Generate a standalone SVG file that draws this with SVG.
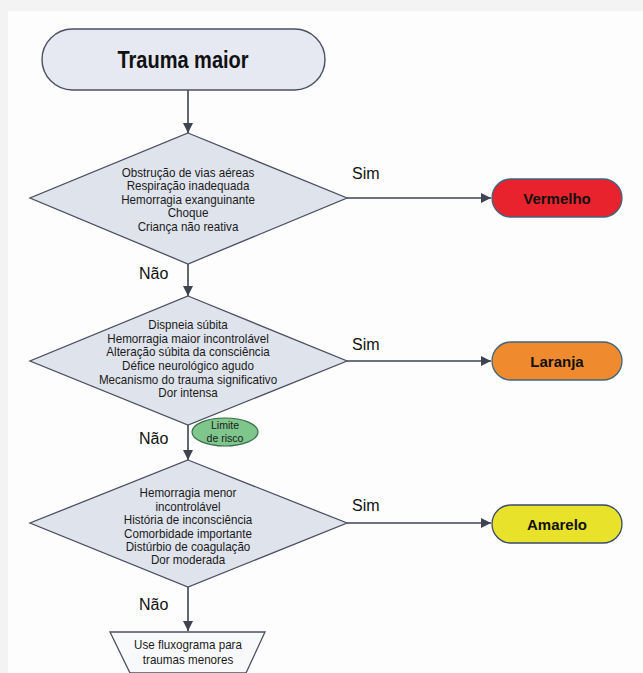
<svg xmlns="http://www.w3.org/2000/svg" width="643" height="673" viewBox="0 0 643 673">
<style>
.conn{stroke:#3d4450;stroke-width:1.6;fill:none}
.dia{fill:#dfe3ec;stroke:#4a5060;stroke-width:1.3}
.dt{font-family:"Liberation Sans",Arial,sans-serif;font-size:12.5px;fill:#1a1a1a;text-anchor:middle}
.lbl{font-family:"Liberation Sans",Arial,sans-serif;font-size:16px;fill:#111}
.out{font-family:"Liberation Sans",Arial,sans-serif;font-size:15px;font-weight:bold;fill:#111;text-anchor:middle}
.term{stroke:#3c6580;stroke-width:1.3}
</style>
<defs>
<marker id="ah" viewBox="0 0 10 10" refX="10" refY="5" markerWidth="10" markerHeight="10" markerUnits="userSpaceOnUse" orient="auto">
<path d="M0,0 L10,5 L0,10 Z" fill="#3d4450"/>
</marker>
</defs>
<rect x="0" y="0" width="643" height="673" fill="#f3f3f3"/>
<rect x="8" y="11" width="635" height="662" fill="#fdfdfd"/>

<g id="connectors">
<line class="conn" x1="188" y1="90" x2="188" y2="133" marker-end="url(#ah)"/>
<line class="conn" x1="188" y1="264" x2="188" y2="296" marker-end="url(#ah)"/>
<line class="conn" x1="188" y1="425" x2="188" y2="460" marker-end="url(#ah)"/>
<line class="conn" x1="188" y1="587" x2="188" y2="631" marker-end="url(#ah)"/>
<line class="conn" x1="347" y1="198" x2="491" y2="198" marker-end="url(#ah)"/>
<line class="conn" x1="347" y1="361" x2="491" y2="361" marker-end="url(#ah)"/>
<line class="conn" x1="347" y1="523" x2="491" y2="523" marker-end="url(#ah)"/>
<text class="lbl" x="352" y="179">Sim</text>
<text class="lbl" x="352" y="350">Sim</text>
<text class="lbl" x="352" y="511">Sim</text>
<text class="lbl" x="139" y="279">Não</text>
<text class="lbl" x="139" y="444">Não</text>
<text class="lbl" x="139" y="610">Não</text>
</g>

<g id="trauma-maior">
<rect x="42" y="29" width="283" height="61" rx="30.5" fill="#e6e9f2" stroke="#4a5060" stroke-width="1.4"/>
<text x="183" y="68" transform="translate(183,0) scale(0.87,1) translate(-183,0)" font-family="Liberation Sans,Arial,sans-serif" font-size="23" font-weight="bold" fill="#111" text-anchor="middle">Trauma maior</text>
</g>

<g id="decision-1">
<polygon class="dia" points="188,133 347,198 188,264 30,198"/>
<g transform="translate(188,0) scale(0.93,1)">
<text class="dt" x="0" y="177">Obstrução de vias aéreas</text>
<text class="dt" x="0" y="190.5">Respiração inadequada</text>
<text class="dt" x="0" y="204">Hemorragia exanguinante</text>
<text class="dt" x="0" y="217.5">Choque</text>
<text class="dt" x="0" y="231">Criança não reativa</text>
</g>
</g>

<g id="vermelho">
<rect class="term" x="492" y="179" width="130" height="38" rx="19" fill="#e8232e"/>
<text class="out" x="557" y="203.5">Vermelho</text>
</g>

<g id="decision-2">
<polygon class="dia" points="188,296 347,361 188,425 30,361"/>
<g transform="translate(188,0) scale(0.93,1)">
<text class="dt" x="0" y="329">Dispneia súbita</text>
<text class="dt" x="0" y="342.7">Hemorragia maior incontrolável</text>
<text class="dt" x="0" y="356.4">Alteração súbita da consciência</text>
<text class="dt" x="0" y="370.1">Défice neurológico agudo</text>
<text class="dt" x="0" y="383.8">Mecanismo do trauma significativo</text>
<text class="dt" x="0" y="397.5">Dor intensa</text>
</g>
</g>

<g id="laranja">
<rect class="term" x="492" y="342" width="130" height="38" rx="19" fill="#f08a2e"/>
<text class="out" x="557" y="366.5">Laranja</text>
</g>

<g id="limite-de-risco">
<ellipse cx="225" cy="432" rx="33" ry="14" fill="#7fc68c" stroke="#3b6e4a" stroke-width="1.2"/>
<g transform="translate(225,0) scale(0.92,1)" font-family="Liberation Sans,Arial,sans-serif" font-size="11.5" fill="#1a1a1a" text-anchor="middle">
<text x="0" y="429">Limite</text>
<text x="0" y="442">de risco</text>
</g>
</g>

<g id="decision-3">
<polygon class="dia" points="188,460 347,523 188,587 30,523"/>
<g transform="translate(188,0) scale(0.93,1)">
<text class="dt" x="0" y="497.5">Hemorragia menor</text>
<text class="dt" x="0" y="510.9">incontrolável</text>
<text class="dt" x="0" y="524.3">História de inconsciência</text>
<text class="dt" x="0" y="537.7">Comorbidade importante</text>
<text class="dt" x="0" y="551.1">Distúrbio de coagulação</text>
<text class="dt" x="0" y="564.5">Dor moderada</text>
</g>
</g>

<g id="amarelo">
<rect x="492" y="505" width="130" height="38" rx="19" fill="#e8e22a" stroke="#3a4a6a" stroke-width="1.3"/>
<text class="out" x="557" y="529.5">Amarelo</text>
</g>

<g id="fluxograma-menores">
<polygon points="110,632 265,632 246,673 130,673" fill="#f8f9fb" stroke="#4a5060" stroke-width="1.3"/>
<g transform="translate(188,0) scale(0.93,1)">
<text class="dt" x="0" y="649">Use fluxograma para</text>
<text class="dt" x="0" y="664">traumas menores</text>
</g>
</g>
</svg>
